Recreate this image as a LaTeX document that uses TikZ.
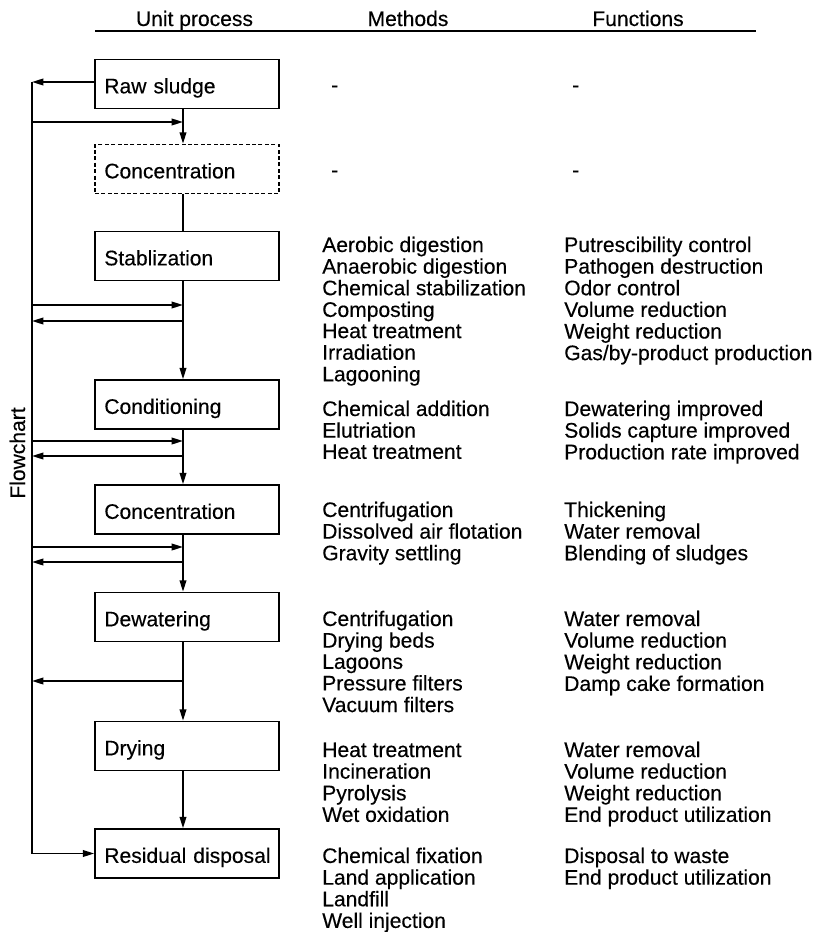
\documentclass[tikz,border=0pt]{standalone}
\usepackage{fontspec}
\setmainfont{Liberation Sans}[FakeBold=0.3]
\usetikzlibrary{arrows.meta}
\newcommand{\colx}[1]{\begin{tabular}[t]{@{}l@{}}#1\end{tabular}}
\begin{document}
\begin{tikzpicture}[x=0.75pt,y=-0.75pt,
  every node/.style={font=\fontsize{15.8}{15.9}\selectfont},
  box/.style={draw, line width=1.2pt, minimum height=36.75pt, text width=124pt, align=left,
    inner xsep=7pt, inner ysep=0pt, text height=14pt, text depth=0pt},
  dbox/.style={box, dash pattern=on 3pt off 1.8pt},
  txt/.style={anchor=base west, inner sep=0pt},
  hd/.style={anchor=base, inner sep=0pt},
  ln/.style={line width=1.2pt},
  arr/.style={ln, -{Triangle[length=8.5pt,width=5pt]}}]
\useasboundingbox (0,0) rectangle (816,932);

% headers
\node[hd] (h1) at (194.5,26) {Unit process};
\node[hd] (h2) at (408,26) {Methods};
\node[hd] (h3) at (638,26) {Functions};
\coordinate (hl) at (95,31);
\coordinate (hr) at (756,31);
\draw[line width=1.1pt] (hl) -- (hr);

% boxes
\node[box]  (raw)  at (187,84)    {\mbox{Raw sludge}};
\node[dbox] (concd) at (187,169)  {\mbox{Concentration}};
\node[box]  (stab) at (187,256)   {\mbox{Stablization}};
\node[box]  (cond) at (187,404.5) {\mbox{Conditioning}};
\node[box]  (conc) at (187,509.5) {\mbox{Concentration}};
\node[box]  (dew)  at (187,617)   {\mbox{Dewatering}};
\node[box]  (dry)  at (187,746)   {\mbox{Drying}};
\node[box]  (res)  at (187,853.5) {\mbox{Residual disposal}};

% flowchart label
\node[rotate=90, anchor=base, inner sep=0pt] (fc) at (25,453) {Flowchart};

% main vertical line
\coordinate (cx) at (183,0);
\draw[arr] (raw.south -| cx) -- (concd.north -| cx);
\draw[ln]  (concd.south -| cx) -- (stab.north -| cx);
\draw[arr] (stab.south -| cx) -- (cond.north -| cx);
\draw[arr] (cond.south -| cx) -- (conc.north -| cx);
\draw[arr] (conc.south -| cx) -- (dew.north -| cx);
\draw[arr] (dew.south -| cx) -- (dry.north -| cx);
\draw[arr] (dry.south -| cx) -- (res.north -| cx);

% left bypass line
\coordinate (L0) at (32,82);
\coordinate (Lend) at (32,853.5);
\draw[arr] (raw.west |- L0) -- (L0);
\draw[ln] (L0) -- (Lend);
\draw[arr] (Lend) -- (res.west);

% branch arrows to the main line
\coordinate (a1l) at (32,122);  \coordinate (a1r) at (183,122);
\coordinate (a2l) at (32,305);  \coordinate (a2r) at (183,305);
\coordinate (a3l) at (32,441);  \coordinate (a3r) at (183,441);
\coordinate (a4l) at (32,547);  \coordinate (a4r) at (183,547);
\draw[arr] (a1l) -- (a1r);
\draw[arr] (a2l) -- (a2r);
\draw[arr] (a3l) -- (a3r);
\draw[arr] (a4l) -- (a4r);

% branch arrows back to the bypass line
\coordinate (b1l) at (32,321);  \coordinate (b1r) at (183,321);
\coordinate (b2l) at (32,456);  \coordinate (b2r) at (183,456);
\coordinate (b3l) at (32,562);  \coordinate (b3r) at (183,562);
\coordinate (b4l) at (32,681);  \coordinate (b4r) at (183,681);
\draw[arr] (b1r) -- (b1l);
\draw[arr] (b2r) -- (b2l);
\draw[arr] (b3r) -- (b3l);
\draw[arr] (b4r) -- (b4l);

% methods and functions
\node[txt] (m0) at (331,92) {-};
\node[txt] (f0) at (572,92) {-};
\node[txt] (m1) at (331,177) {-};
\node[txt] (f1) at (572,177) {-};

\node[txt] (m2) at (322,252) {\colx{Aerobic digestion\\Anaerobic digestion\\Chemical stabilization\\Composting\\Heat treatment\\Irradiation\\Lagooning}};
\node[txt] (f2) at (564,252) {\colx{Putrescibility control\\Pathogen destruction\\Odor control\\Volume reduction\\Weight reduction\\Gas/by-product production}};

\node[txt] (m3) at (322,416) {\colx{Chemical addition\\Elutriation\\Heat treatment}};
\node[txt] (f3) at (564,416) {\colx{Dewatering improved\\Solids capture improved\\Production rate improved}};

\node[txt] (m4) at (322,517) {\colx{Centrifugation\\Dissolved air flotation\\Gravity settling}};
\node[txt] (f4) at (564,517) {\colx{Thickening\\Water removal\\Blending of sludges}};

\node[txt] (m5) at (322,626) {\colx{Centrifugation\\Drying beds\\Lagoons\\Pressure filters\\Vacuum filters}};
\node[txt] (f5) at (564,626) {\colx{Water removal\\Volume reduction\\Weight reduction\\Damp cake formation}};

\node[txt] (m6) at (322,757) {\colx{Heat treatment\\Incineration\\Pyrolysis\\Wet oxidation}};
\node[txt] (f6) at (564,757) {\colx{Water removal\\Volume reduction\\Weight reduction\\End product utilization}};

\node[txt] (m7) at (322,863) {\colx{Chemical fixation\\Land application\\Landfill\\Well injection}};
\node[txt] (f7) at (564,863) {\colx{Disposal to waste\\End product utilization}};
\end{tikzpicture}
\end{document}
